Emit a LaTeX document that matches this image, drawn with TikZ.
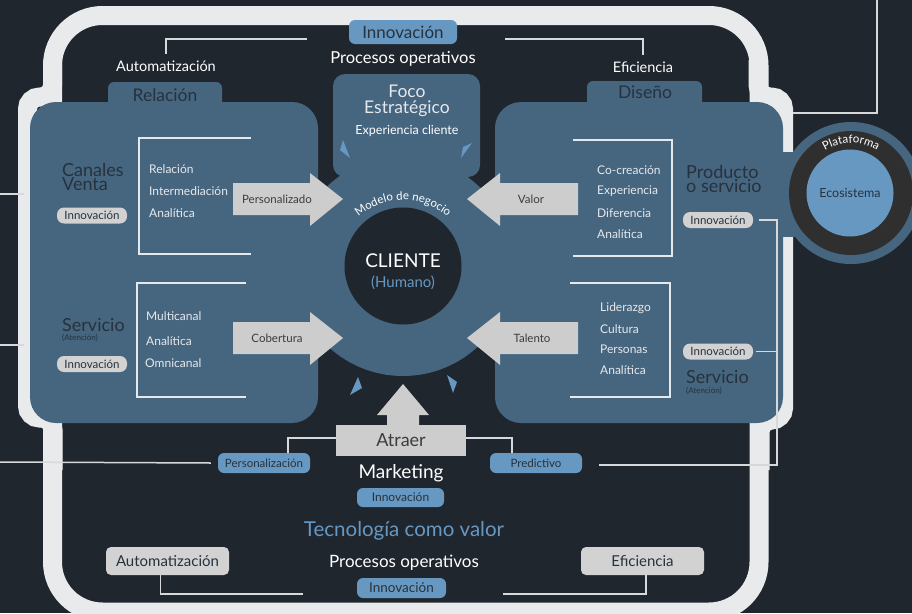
\documentclass[tikz,border=0pt]{standalone}
\usepackage{fontspec}
\setmainfont{Lato}
\usetikzlibrary{decorations.text}

\definecolor{bgdark}{HTML}{20262E}
\definecolor{rim}{HTML}{E9EAEC}
\definecolor{panel}{HTML}{46657F}
\definecolor{sky}{HTML}{6798C2}
\definecolor{arrowgrey}{HTML}{CDCDCD}
\definecolor{pillgrey}{HTML}{D2D2D2}
\definecolor{ink}{HTML}{26323D}
\definecolor{ringgrey}{HTML}{2F2F2F}
\definecolor{itemwhite}{HTML}{E6E9EC}
\definecolor{wiregrey}{HTML}{D6D8DA}
\definecolor{atext}{HTML}{3C3C3C}

\newcommand{\pxfont}[1]{\fontsize{#1}{#1}\selectfont}

\begin{document}
\begin{tikzpicture}[x=1pt,y=-1pt,
        every node/.style={inner sep=0pt},
        item/.style={anchor=west,text=itemwhite,font=\pxfont{12}},
        heading/.style={anchor=west,align=left,text=ink,font=\fontsize{18}{14}\selectfont},
        note/.style={anchor=west,text=ink,font=\pxfont{8}},
        greypill/.style={fill=pillgrey,rounded corners=7pt,minimum width=70pt,minimum height=16pt,text=ink,font=\pxfont{11.5}},
        skypill/.style={fill=sky,rounded corners=6pt,text=ink},
        greybox/.style={fill=pillgrey,rounded corners=5pt,minimum width=123pt,minimum height=28pt,text=ink,font=\pxfont{15}},
        wire/.style={draw=wiregrey,line width=1.5pt},
        bracket/.style={draw=itemwhite,line width=1.5pt},
        arrowlabel/.style={text=atext,font=\pxfont{11.5}},
        bigarrow/.style={fill=arrowgrey},
        spark/.style={fill=sky}]
        \useasboundingbox (0,0) rectangle (912,613);
        \fill[bgdark] (0,0) rectangle (912,613);
        \clip (0,0) rectangle (912,613);

        \draw[rim,line width=19pt,rounded corners=50pt] (52.5,15.5) rectangle (759,612);
        \draw[rim,line width=19pt,rounded corners=12pt] (52.5,60) -- (52.5,97) -- (27.5,97) -- (27.5,418) -- (53,418) -- (53,470);
        \draw[rim,line width=19pt,rounded corners=12pt] (758,60) -- (758,97) -- (783.5,97) -- (783.5,420) -- (760,420) -- (760,470);

        \fill[panel,rounded corners=6pt] (108,82) rectangle (222,115);
        \fill[panel,rounded corners=6pt] (587,81) rectangle (702,115);
        \fill[panel,rounded corners=26pt] (30,102) rectangle (318,423);
        \fill[panel,rounded corners=26pt] (495,102) rectangle (783,423);
        \fill[panel,rounded corners=12pt] (333,74) rectangle (480,177);
        \fill[panel] (403,266) circle (110);
        \fill[panel] (772,152) rectangle (800,237);
        \fill[panel] (851,193) circle (71);
        \fill[ringgrey] (851,193) circle (62);
        \fill[sky] (850,193) circle (43.5);
        \fill[bgdark] (403,266) circle (58.5);

        \fill[spark] (340,150) -- (343,140) -- (350,158) -- cycle;
        \fill[spark] (461,158) -- (472,143) -- (463,147) -- cycle;
        \fill[spark] (350,395) -- (358,377) -- (362,388) -- cycle;
        \fill[spark] (447,375) -- (457,382) -- (453,393) -- cycle;

        \fill[bigarrow] (233,183) -- (310,183) -- (310,173) -- (343,199) -- (310,226) -- (310,215) -- (233,215) -- cycle;
        \fill[bigarrow] (233,322) -- (310,322) -- (310,312) -- (343,338) -- (310,365) -- (310,354) -- (233,354) -- cycle;
        \fill[bigarrow] (578,183) -- (500,183) -- (500,173) -- (467,199) -- (500,226) -- (500,215) -- (578,215) -- cycle;
        \fill[bigarrow] (578,322) -- (500,322) -- (500,312) -- (467,338) -- (500,365) -- (500,354) -- (578,354) -- cycle;
        \fill[bigarrow] (387,426) -- (387,415) -- (377,415) -- (403,384) -- (429,415) -- (419,415) -- (419,426) -- cycle;
        \node[arrowlabel] (personalizado) at (277,199) {Personalizado};
        \node[arrowlabel] (cobertura) at (277,338) {Cobertura};
        \node[arrowlabel] (valor) at (531,199) {Valor};
        \node[arrowlabel] (talento) at (532,338) {Talento};
        \node[fill=arrowgrey,minimum width=130pt,minimum height=31pt,text=atext,font=\pxfont{18}] (atraer) at (401,440.5) {Atraer};

        \draw[bracket] (251,138) -- (139,138) -- (139,254) -- (251,254);
        \draw[bracket] (246,283) -- (137,283) -- (137,397) -- (246,397);
        \draw[bracket] (573,140) -- (672,140) -- (672,256) -- (573,256);
        \draw[bracket] (570,283) -- (670,283) -- (670,397) -- (570,397);

        \node[item] (rel) at (149,169) {Relación};
        \node[item] (inter) at (149,191) {Intermediación};
        \node[item] (anaA) at (149,213) {Analítica};
        \node[item] (multi) at (146,316) {Multicanal};
        \node[item] (anaB) at (146,341) {Analítica};
        \node[item] (omni) at (145,363) {Omnicanal};
        \node[item] (cocrea) at (597,170) {Co-creación};
        \node[item] (exper) at (597,191) {Experiencia};
        \node[item] (difer) at (597,213) {Diferencia};
        \node[item] (anaC) at (597,234) {Analítica};
        \node[item] (lider) at (600,308) {Liderazgo};
        \node[item] (cultura) at (600,329) {Cultura};
        \node[item] (personas) at (600,349) {Personas};
        \node[item] (anaD) at (600,370) {Analítica};

        \node[heading] (canales) at (62,177) {Canales\\Venta};
        \node[greypill] (innoCV) at (92,215.5) {Innovación};
        \node[heading] (servL) at (62,325) {Servicio};
        \node[note] (atenL) at (62,338) {(Atención)};
        \node[greypill] (innoSL) at (92,364) {Innovación};
        \node[heading] (producto) at (686,179) {Producto\\o servicio};
        \node[greypill] (innoP) at (718,220) {Innovación};
        \node[greypill] (innoS) at (718,351.5) {Innovación};
        \node[heading] (servR) at (686,377) {Servicio};
        \node[note] (atenR) at (686,391) {(Atención)};

        \node[text=ink,font=\pxfont{17.5}] (tabRel) at (165,95) {Relación};
        \node[text=ink,font=\pxfont{17.5}] (tabDis) at (645,92) {Diseño};
        \node[text=itemwhite,font=\pxfont{17.5}] (foco) at (407,91.5) {Foco};
        \node[text=itemwhite,font=\pxfont{17.5}] (estrat) at (407,108.5) {Estratégico};
        \node[text=white,font=\pxfont{12.5}] (expcli) at (407,131) {Experiencia cliente};

        \node[text=white,font=\pxfont{19}] (cliente) at (403,261) {CLIENTE};
        \node[text=sky,font=\pxfont{15}] (humano) at (403,283) {(Humano)};
        \path[decorate,decoration={text along path,text align=center,
                text={|\pxfont{11.5}\color{white}|Modelo de negocio}}]
                ([shift={(205:68)}]403,268) arc[start angle=205,end angle=335,radius=68];

        \node[text=ink,font=\pxfont{12.5}] (eco) at (850,193) {Ecosistema};
        \path[decorate,decoration={text along path,text align=center,
                text={|\pxfont{11.5}\color{white}|Plataforma}}]
                ([shift={(215:50)}]851,193) arc[start angle=215,end angle=325,radius=50];

        \node[skypill,minimum width=108pt,minimum height=24pt,font=\pxfont{17}] (innoTop) at (403,32) {Innovación};
        \node[text=white,font=\pxfont{16.5}] (procTop) at (403,59) {Procesos operativos};
        \node[text=white,font=\pxfont{14.5}] (autoTop) at (166,66) {Automatización};
        \node[text=white,font=\pxfont{14.5}] (efiTop) at (643,67) {Eficiencia};
        \coordinate (tl) at (307,39);
        \coordinate (tr) at (505,39);
        \draw[wire] (tl) -| ([yshift=6pt]autoTop.north);
        \draw[wire] (tr) -| ([yshift=6pt]efiTop.north);

        \node[skypill,minimum width=92pt,minimum height=20pt,font=\pxfont{11.5}] (personal) at (264,463) {Personalización};
        \node[skypill,minimum width=92pt,minimum height=20pt,font=\pxfont{11.5}] (predict) at (536,463) {Predictivo};
        \draw[wire] ([xshift=24pt]personal.north) |- ([yshift=2.5pt]atraer.west);
        \draw[wire] ([yshift=2.5pt]atraer.east) -| ([xshift=-24pt]predict.north);

        \node[text=white,font=\pxfont{19}] (mkt) at (401,473) {Marketing};
        \node[skypill,minimum width=87pt,minimum height=19pt,font=\pxfont{12}] (innoMkt) at (400.5,497.5) {Innovación};
        \node[text=sky,font=\pxfont{20.5}] (tecno) at (404,531) {Tecnología como valor};
        \node[text=white,font=\pxfont{17}] (procBot) at (404,563) {Procesos operativos};
        \node[skypill,minimum width=89pt,minimum height=20pt,font=\pxfont{13.5}] (innoBot) at (401.5,588) {Innovación};
        \node[greybox] (autoBox) at (167.5,561) {Automatización};
        \node[greybox] (efiBox) at (642.5,561) {Eficiencia};
        \coordinate (bl) at (303,594);
        \coordinate (br) at (503,594);
        \draw[wire] ([xshift=-7pt]autoBox.south) |- (bl);
        \draw[wire] ([xshift=3.5pt]efiBox.south) |- (br);

        \coordinate (edgeA) at (0,194);
        \coordinate (edgeB) at (0,345);
        \coordinate (edgeC) at (0,462);
        \draw[wire] (edgeA) -- (24,194);
        \draw[wire] (edgeB) -- (24,345);
        \draw[wire] (edgeC) -- ([xshift=-7pt]personal.west);

        \coordinate (rail) at (777,465);
        \coordinate (railEnd) at (599,465);
        \draw[wire] ([xshift=6pt]innoP.east) -| (rail) -- (railEnd);
        \draw[wire] ([xshift=3pt]innoS.east) -- (innoS.east -| rail);

        \coordinate (platTap) at (793,113);
        \coordinate (exitTop) at (877,0);
        \draw[wire] (platTap) -| (exitTop);
\end{tikzpicture}
\end{document}
